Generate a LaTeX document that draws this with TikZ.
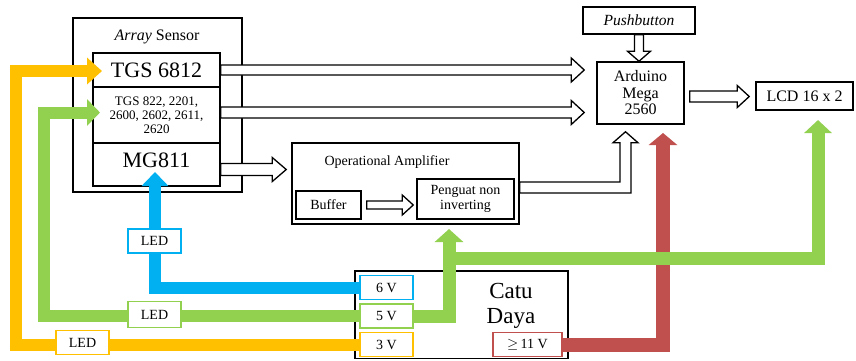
\documentclass[tikz,border=0pt]{standalone}
\usepackage{fontspec}
\setmainfont{Liberation Serif}
\usetikzlibrary{arrows.meta,calc}
\definecolor{cy}{HTML}{FFC000}
\definecolor{cg}{HTML}{92D050}
\definecolor{cb}{HTML}{00B0F0}
\definecolor{cr}{HTML}{C0504D}
\newcommand\fsz[2]{\fontsize{#1}{#2}\selectfont}
\newcommand\hright[5]{\draw[hollow] let \p1=(#1), \p2=(#2) in (\x1,\y1+#3) -- (\x2-#5,\y1+#3) -- (\x2-#5,\y1+#4) -- (\x2,\y1) -- (\x2-#5,\y1-#4) -- (\x2-#5,\y1-#3) -- (\x1,\y1-#3) -- cycle;}
\newcommand\hdown[5]{\draw[hollow] let \p1=(#1), \p2=(#2) in (\x1-#3,\y1) -- (\x1-#3,\y2+#5) -- (\x1-#4,\y2+#5) -- (\x1,\y2) -- (\x1+#4,\y2+#5) -- (\x1+#3,\y2+#5) -- (\x1+#3,\y1) -- cycle;}
\pgfdeclarelayer{pwr}
\pgfdeclarelayer{top}
\pgfsetlayers{main,pwr,top}
\begin{document}
\begin{tikzpicture}[x=1pt,y=-1pt,
  box/.style={draw, line width=1.5pt, fill=white, inner sep=0pt},
  hollow/.style={draw, line width=1.3pt, fill=white, line join=miter},
  pw/.style={line width=12pt},
  vb/.style={draw=#1, line width=1.6pt, fill=white, inner sep=0pt, minimum width=53pt, minimum height=24pt, font=\fsz{14}{14}},
]
\useasboundingbox (0,0) rectangle (856,360);
% array sensor
\node[box, minimum width=169pt, minimum height=174pt] (arr) at (157.5,105) {};
\node[font=\fsz{16}{16}] (arrlbl) at (157,37) {\textit{Array} Sensor};
\node[box, minimum width=127pt, minimum height=34pt, font=\fsz{22}{22}] (tgs1) at (156.5,70) {TGS 6812};
\node[box, minimum width=127pt, minimum height=56pt, align=center, font=\fsz{13}{14}] (tgs2) at (156.5,115) {TGS 822, 2201,\\2600, 2602, 2611,\\2620};
\node[box, minimum width=127pt, minimum height=43pt] (mg) at (156.5,164.5) {};
\node[font=\fsz{22}{22}] (mglbl) at (156.5,160) {MG811};
% right part
\node[box, minimum width=112pt, minimum height=27pt, font=\itshape\fsz{15.5}{15.5}] (push) at (639,20.5) {Pushbutton};
\node[box, minimum width=87pt, minimum height=62pt, align=center, font=\fsz{16}{16.5}] (ard) at (640.5,93) {Arduino\\Mega\\2560};
\node[box, minimum width=97pt, minimum height=28pt, font=\fsz{16}{16}] (lcd) at (804.5,96) {LCD 16 x 2};
% op amp
\node[box, minimum width=227pt, minimum height=81pt] (opamp) at (405.5,183.5) {};
\node[font=\fsz{14}{14}] (oplbl) at (387,162) {Operational Amplifier};
\node[box, minimum width=65pt, minimum height=28pt, font=\fsz{14}{14}] (buf) at (328.5,205) {Buffer};
\node[box, minimum width=97pt, minimum height=40pt, align=center, font=\fsz{14}{15}] (pen) at (465.5,199) {Penguat non\\inverting};
% catu daya
\node[box, minimum width=213pt, minimum height=87.5pt] (catu) at (461.5,314.75) {};
\node[align=center, font=\fsz{23}{25}] (catulbl) at (511,305.5) {Catu\\Daya};
% hollow arrows
\hright{tgs1.east}{[xshift=-12pt]ard.west}{5pt}{12pt}{13pt}
\hright{[yshift=2.5pt]tgs2.east}{[xshift=-12pt]ard.west}{5.5pt}{12pt}{13pt}
\hright{[yshift=-5pt]mg.east}{[xshift=-5pt]opamp.west}{6pt}{12pt}{14pt}
\hright{[xshift=5pt,yshift=-3.5pt]ard.east}{[xshift=-6pt]lcd.west}{5.5pt}{11pt}{12pt}
\hright{[xshift=5pt]buf.east}{[xshift=-3pt]pen.west}{4pt}{10pt}{11pt}
\hdown{push.south}{ard.north}{4.5pt}{11.5pt}{10pt}
\draw[hollow] let \p1=([yshift=-4pt]opamp.east), \p2=([xshift=-15pt,yshift=-7pt]ard.south) in
  (\x1,\y1+5.5pt) -- (\x2-5.5pt,\y1+5.5pt) -- (\x2-5.5pt,\y2-11pt) -- (\x2-12.5pt,\y2-11pt) -- (\x2,\y2)
  -- (\x2+12.5pt,\y2-11pt) -- (\x2+5.5pt,\y2-11pt) -- (\x2+5.5pt,\y1-5.5pt) -- (\x1,\y1-5.5pt) -- cycle;
% voltage boxes and LEDs
\begin{pgfonlayer}{top}
\node[vb=cb] (v6) at (386.5,287.5) {6 V};
\node[vb=cg] (v5) at (386.5,316) {5 V};
\node[vb=cy] (v3) at (386.5,344.5) {3 V};
\node[vb=cr, minimum width=69pt] (v11) at (527.5,344.5) {$\geq$\,11 V};
\node[vb=cb] (led1) at (154.5,241) {LED};
\node[vb=cg, minimum height=26pt] (led2) at (154.5,314.5) {LED};
\node[vb=cy] (led3) at (82.5,342.5) {LED};
\end{pgfonlayer}
% power lines
\begin{pgfonlayer}{pwr}
\coordinate (ytip) at (102,71);
\coordinate (gtip) at (100,112.5);
\coordinate (btip) at (155,172);
\coordinate (otip) at (449,229);
\coordinate (gsplit) at (449,258);
\coordinate (ltip) at (818,120);
\coordinate (rtip) at (663,133);
\draw[pw, cy, -{Triangle[width=26pt,length=15pt]}] (v3.west) -| (16,71) -- (ytip);
\draw[pw, cg, -{Triangle[width=26pt,length=13pt]}] (v5.west) -| (44,112.5) -- (gtip);
\draw[pw, cb, -{Triangle[width=26pt,length=14pt]}] (v6.west) -| (btip);
\draw[line width=14pt, cr, -{Triangle[width=28pt,length=12pt]}] (v11.east) -| (rtip);
\draw[line width=13pt, cg, -{Triangle[width=28pt,length=13pt]}] (v5.east) -| (otip);
\draw[line width=13pt, cg, -{Triangle[width=27pt,length=13pt]}] (gsplit) -| (ltip);
\end{pgfonlayer}
\end{tikzpicture}
\end{document}
